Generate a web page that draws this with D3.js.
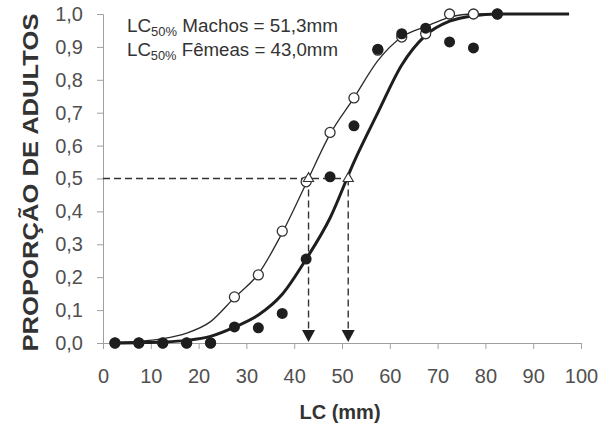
<!DOCTYPE html>
<html><head><meta charset="utf-8">
<script src="https://cdn.jsdelivr.net/npm/d3@7"></script>
<style>html,body{margin:0;padding:0;background:#fff;}svg{display:block;}</style>
</head><body>
<svg id="chart" width="609" height="429"></svg>
<script>
// Size class midpoints (mm)
const classMid = [2.5,7.5,12.5,17.5,22.5,27.5,32.5,37.5,42.5,47.5,52.5,57.5,62.5,67.5,72.5,77.5,82.5];
// Observed proportion of adults
const machosObs = [0,0,0,0,0,0.049,0.046,0.09,0.255,0.505,0.66,0.893,0.94,0.957,0.915,0.897,1.0];
const femeasObs = [0,0,0,0,0,0.14,0.207,0.34,0.49,0.64,0.745,0.89,0.93,0.94,1.0,1.0,1.0];
// Fitted curves
const curveX = [2.5,7.5,12.5,17.5,22.5,27.5,32.5,37.5,42.5,47.5,52.5,57.5,62.5,67.5,72.5,77.5,82.5,87.5,92.5,97.5];
const machosFit = [0,0.001,0.003,0.008,0.02,0.048,0.085,0.148,0.255,0.38,0.55,0.70,0.845,0.935,0.978,0.995,1.0,1.0,1.0,1.0];
const femeasFit = [0.002,0.005,0.013,0.03,0.065,0.138,0.21,0.335,0.485,0.635,0.745,0.858,0.93,0.962,0.99,1.0,1.0,1.0,1.0,1.0];
// LC50 values
const lc50 = [{sexo:"Machos", v:51.3, label:"51,3mm"},{sexo:"Fêmeas", v:43.0, label:"43,0mm"}];
const xTicks = [0,10,20,30,40,50,60,70,80,90,100];
const yTicks = [0,0.1,0.2,0.3,0.4,0.5,0.6,0.7,0.8,0.9,1.0];

const svg = d3.select("#chart");
const x = d3.scaleLinear().domain([0,100]).range([103,581]);
const y = d3.scaleLinear().domain([0,1]).range([343,14]);
const fmtY = d => d3.format(".1f")(d).replace(".", ",");

const axisCol = "#a0a0a0", txtCol = "#505050", ink = "#1e1e1e";
const font = "Arial, 'Liberation Sans', sans-serif";

// Axes
const gx = svg.append("g").attr("transform", `translate(0,${y(0)})`)
  .call(d3.axisBottom(x).tickValues(xTicks).tickSize(6).tickPadding(20).tickSizeOuter(6));
const gy = svg.append("g").attr("transform", `translate(${x(0)},0)`)
  .call(d3.axisLeft(y).tickValues(yTicks).tickFormat(fmtY).tickSize(6).tickPadding(14).tickSizeOuter(6));
[gx, gy].forEach(g => {
  g.select(".domain").attr("stroke", axisCol).attr("stroke-width", 1);
  g.selectAll(".tick line").attr("stroke", axisCol);
  g.selectAll(".tick text").attr("fill", txtCol).attr("font-family", font).attr("font-size", 20);
});

// Axis titles
svg.append("text").attr("x", 340).attr("y", 419).attr("text-anchor", "middle")
  .attr("font-family", font).attr("font-weight", "bold")
  .attr("font-size", 20).attr("fill", "#333").text("LC (mm)");
svg.append("text").attr("transform", `translate(38,${(y(0)+y(1))/2 + 4}) rotate(-90)`)
  .attr("text-anchor", "middle")
  .attr("font-family", font).attr("font-weight", "bold")
  .attr("font-size", 22).attr("fill", "#333")
  .attr("textLength", 338).attr("lengthAdjust", "spacingAndGlyphs")
  .text("PROPORÇÃO DE ADULTOS");

// Curves
const line = d3.line().x(d => x(d[0])).y(d => y(d[1])).curve(d3.curveMonotoneX);
svg.append("path").datum(curveX.map((v,i) => [v, femeasFit[i]]))
  .attr("d", line).attr("fill", "none").attr("stroke", "#2a2a2a").attr("stroke-width", 1.3);
svg.append("path").datum(curveX.map((v,i) => [v, machosFit[i]]))
  .attr("d", line).attr("fill", "none").attr("stroke", ink).attr("stroke-width", 3);

// Dashed guides
const maxL = d3.max(lc50, d => d.v);
const arrowH = 12, arrowW = 13;
svg.append("line").attr("x1", x(0)).attr("x2", x(maxL)).attr("y1", y(0.5)).attr("y2", y(0.5))
  .attr("stroke", "#333").attr("stroke-width", 1.4).attr("stroke-dasharray", "7,4");
lc50.forEach(d => {
  svg.append("line").attr("x1", x(d.v)).attr("x2", x(d.v)).attr("y1", y(0.5)).attr("y2", y(0) - arrowH)
    .attr("stroke", "#333").attr("stroke-width", 1.4).attr("stroke-dasharray", "7,4");
  const tip = y(0) - 1;
  svg.append("path")
    .attr("d", `M${x(d.v)},${tip}L${x(d.v)-arrowW/2},${tip-arrowH}L${x(d.v)+arrowW/2},${tip-arrowH}Z`)
    .attr("fill", ink);
});

// Points: females (open) under males (filled)
svg.append("g").selectAll("circle").data(classMid.map((v,i) => [v, femeasObs[i]])).join("circle")
  .attr("cx", d => x(d[0])).attr("cy", d => y(d[1])).attr("r", 5)
  .attr("fill", "#fff").attr("stroke", "#333").attr("stroke-width", 1.3);
svg.append("g").selectAll("circle").data(classMid.map((v,i) => [v, machosObs[i]])).join("circle")
  .attr("cx", d => x(d[0])).attr("cy", d => y(d[1])).attr("r", 5.5)
  .attr("fill", ink);

// LC50 markers (open triangles)
svg.append("g").selectAll("path").data(lc50).join("path")
  .attr("transform", d => `translate(${x(d.v)},${y(0.5)})`)
  .attr("d", d3.symbol().type(d3.symbolTriangle).size(45))
  .attr("fill", "#fff").attr("stroke", "#333").attr("stroke-width", 1.1);

// Annotation
const ann = svg.append("g").attr("font-family", font).attr("fill", "#333");
lc50.forEach((d, i) => {
  const t = ann.append("text").attr("x", 127).attr("y", 32 + i * 24).attr("font-size", 17.5)
    .attr("textLength", 211).attr("lengthAdjust", "spacingAndGlyphs");
  t.append("tspan").text("LC");
  t.append("tspan").attr("font-size", 12).attr("dy", 4).text("50%");
  t.append("tspan").attr("dy", -4).text(` ${d.sexo} = ${d.label}`);
});
</script>
</body></html>
